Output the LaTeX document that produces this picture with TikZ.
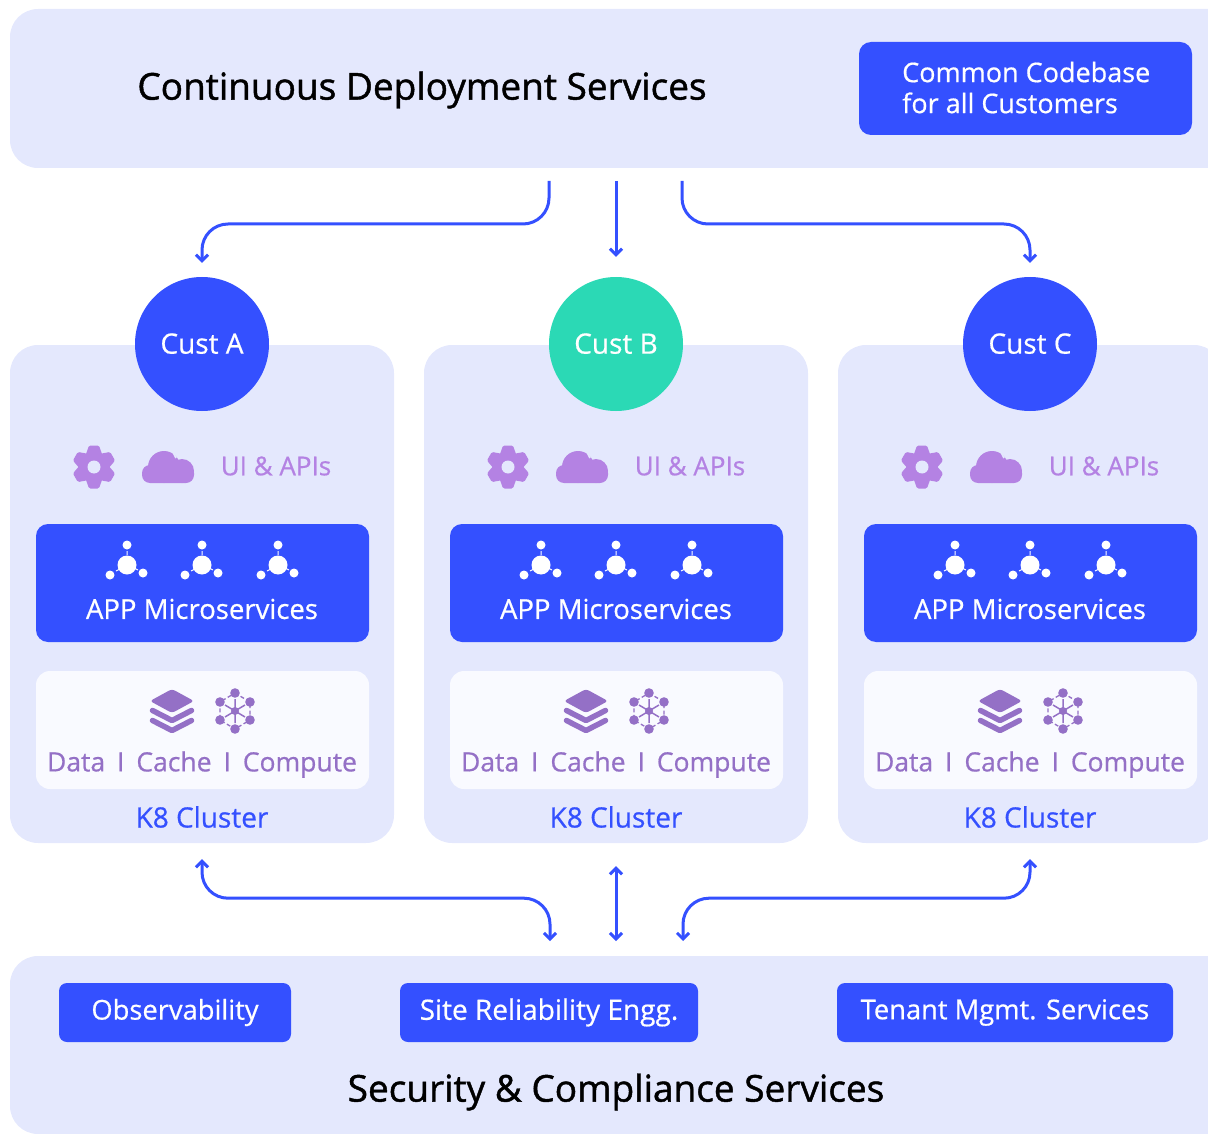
\documentclass[tikz,border=0pt]{standalone}
\usepackage{fontspec}
\setmainfont{Open Sans}
\usetikzlibrary{arrows.meta}
\definecolor{panelcol}{HTML}{E4E8FD}
\definecolor{custblue}{HTML}{3450FF}
\definecolor{custgreen}{HTML}{2BD9B5}
\definecolor{uicol}{HTML}{B482E3}
\definecolor{datacol}{HTML}{9470C6}
\definecolor{databox}{HTML}{F9FAFF}
\newfontfamily\labelfont[FakeBold=0.6]{Open Sans}
\newfontfamily\titlefont[FakeBold=1.2]{Open Sans}
\tikzset{
  gearicon/.pic={
    \foreach \a in {0,60,...,300}
      \fill[uicol,rotate=\a,rounded corners=1.5pt] (-9,-10) -- (-5,-21.5) -- (5,-21.5) -- (9,-10) -- cycle;
    \fill[uicol] (0,0) circle (14.5);
    \fill[panelcol] (0,0) circle (6.5);
  },
  cloudicon/.pic={
    \fill[uicol,rounded corners=8pt] (-26,-2) rectangle (26,16);
    \fill[uicol] (-4,0) circle (16) (14,4) circle (12);
    \draw[panelcol,line width=1.6pt] (5,-15) -- (8,-9);
  },
  microicon/.pic={
    \fill[white] (0,0) circle (9.5) (0,-20) circle (4.5) (-17,10) circle (4.5) (16,8) circle (4.5);
    \draw[white,line width=1pt] (0,-14) -- (0,-10) (-11,6) -- (-8,4.5) (11,5) -- (8,3.5);
  },
  stackicon/.pic={
    \fill[datacol,rounded corners=3pt] (0,-22) -- (22,-10) -- (0,2) -- (-22,-10) -- cycle;
    \draw[datacol,line width=5.5pt,line cap=round,line join=round] (-19.5,-0.5) -- (0,9.5) -- (19.5,-0.5);
    \draw[datacol,line width=5.5pt,line cap=round,line join=round] (-19.5,9.5) -- (0,19.5) -- (19.5,9.5);
  },
  neticon/.pic={
    \draw[datacol,line width=1.3pt,dash pattern=on 4pt off 2.5pt] (0,-18) -- (15,-9) -- (15,9) -- (0,18) -- (-15,9) -- (-15,-9) -- cycle;
    \draw[datacol,line width=1.5pt] (0,-12) -- (0,12) (-10,-6) -- (10,6) (-10,6) -- (10,-6);
    \fill[datacol] (0,0) circle (4);
    \foreach \p in {(0,-18),(15,-9),(15,9),(0,18),(-15,9),(-15,-9)}
      \fill[datacol] \p circle (4.8);
  }
}
\begin{document}
\begin{tikzpicture}[x=1pt,y=-1pt,
  panel/.style={fill=panelcol,rounded corners=28pt,inner sep=0pt},
  bluebox/.style={fill=custblue,rounded corners=12pt,inner sep=0pt,text=white},
  whitebox/.style={fill=databox,rounded corners=14pt,inner sep=0pt},
  cust/.style={circle,minimum size=134pt,inner sep=0pt,text=white,font=\labelfont\fontsize{28}{31}\selectfont},
  label/.style={inner sep=0pt,font=\labelfont\fontsize{27.5}{31}\selectfont},
  title/.style={inner sep=0pt,text=black,font=\titlefont\fontsize{37}{40}\selectfont},
  flow/.style={draw=custblue,line width=3pt,rounded corners=26pt,-{Straight Barb[length=6pt,width=12pt]}},
  flowboth/.style={flow,{Straight Barb[length=6pt,width=12pt]}-{Straight Barb[length=6pt,width=12pt]}}]
\path[use as bounding box,clip] (0,0) rectangle (1208,1134);
% Painel superior
\node[panel,minimum width=1230pt,minimum height=159pt] (topPanel) at (625,88.5) {};
\node[title] (topTitle) at (422,90) {Continuous Deployment Services};
\node[bluebox,minimum width=333pt,minimum height=93pt] (codeBox) at (1025.5,88.5) {};
\node[label,text=white,anchor=west,align=left,font=\labelfont\fontsize{27}{31}\selectfont] (codeText) at (902,87.5) {Common Codebase\\for all Customers};
% Clusters
\foreach \cx/\cname/\ccol in {202/A/custblue,616/B/custgreen,1030/C/custblue}{
  \node[panel,minimum width=384pt,minimum height=498pt] (panel\cname) at (\cx,594) {};
  \node[cust,fill=\ccol] (cust\cname) at (\cx,344) {\raisebox{1pt}{Cust \cname}};
  \pic at (\cx-108,467) {gearicon};
  \pic at (\cx-34,467) {cloudicon};
  \node[label,text=uicol,font=\labelfont\fontsize{26}{31}\selectfont] (ui\cname) at (\cx+74,466) {UI \& APIs};
  \node[bluebox,minimum width=333pt,minimum height=118pt] (micro\cname) at (\cx+0.5,583) {};
  \foreach \dx in {-75,0,76}
    \pic at (\cx+\dx,565) {microicon};
  \node[label,text=white] (microText\cname) at (\cx,609) {APP Microservices};
  \node[whitebox,minimum width=333pt,minimum height=118pt] (data\cname) at (\cx+0.5,730) {};
  \pic at (\cx-30,711) {stackicon};
  \pic at (\cx+33,711) {neticon};
  \node[label,text=datacol,font=\labelfont\fontsize{26.5}{31}\selectfont] (dataText\cname) at (\cx,764.5) {Data\hspace{0.45em}I\hspace{0.45em}Cache\hspace{0.45em}I\hspace{0.45em}Compute};
  \node[label,text=custblue,font=\labelfont\fontsize{28}{31}\selectfont] (k8\cname) at (\cx,817) {K8 Cluster};
}
% Painel inferior
\node[panel,minimum width=1230pt,minimum height=178pt] (secPanel) at (625,1045) {};
\node[bluebox,rounded corners=8pt,minimum width=232pt,minimum height=59pt,font=\labelfont\fontsize{27.3}{31}\selectfont] (obsBox) at (175,1012.5) {\raisebox{-1.5pt}{Observability}};
\node[bluebox,rounded corners=8pt,minimum width=298pt,minimum height=59pt,font=\labelfont\fontsize{28}{31}\selectfont] (sreBox) at (549,1012.5) {\raisebox{-1pt}{Site Reliability Engg.}};
\node[bluebox,rounded corners=8pt,minimum width=336pt,minimum height=59pt,font=\labelfont\fontsize{27.3}{31}\selectfont] (tenantBox) at (1005,1012.5) {\raisebox{-1.5pt}{Tenant Mgmt. Services}};
\node[title] (secTitle) at (616,1092) {Security \& Compliance Services};
% Setas de cima
\coordinate (outA) at (549,181);
\coordinate (outB) at (616,181);
\coordinate (outC) at (682,181);
\draw[flow,shorten >=14pt] (outA) -- ++(0,43) -| (custA.north);
\draw[flow,shorten >=20pt] (outB) -- (custB.north);
\draw[flow,shorten >=14pt] (outC) -- ++(0,43) -| (custC.north);
% Setas de baixo
\coordinate (inA) at (550,941);
\coordinate (inB) at (616,941);
\coordinate (inC) at (683,941);
\draw[flowboth,shorten <=16pt] (panelA.south) -- ++(0,55) -| (inA);
\draw[flowboth,shorten <=23pt] (panelB.south) -- (inB);
\draw[flowboth,shorten <=16pt] (panelC.south) -- ++(0,55) -| (inC);
\end{tikzpicture}
\end{document}
